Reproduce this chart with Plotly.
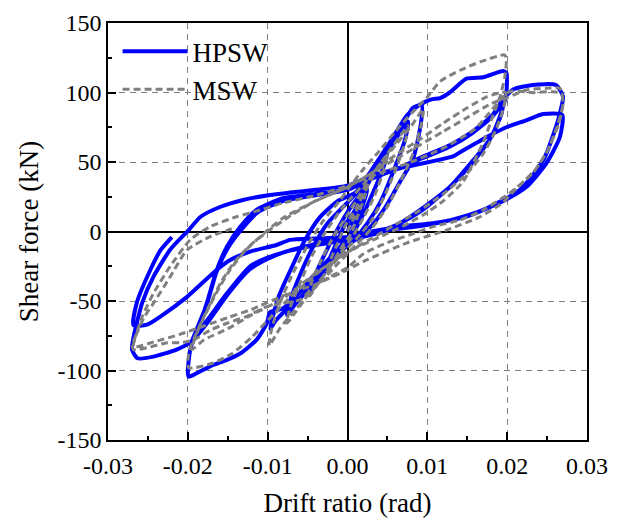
import plotly.graph_objects as go

# ---------------- HPSW (blue, solid) : cycles ----------------
hpsw_c1_x = [0, 0.0008, 0.0016, 0.0025, 0.0022, 0.0012, 0.0004, -0.0008, -0.0018, -0.0026, -0.0022, -0.0012, -0.0004]
hpsw_c1_y = [0, 10, 20, 30, 24, 8, -2, -10, -18, -25, -19, -6, 4]

hpsw_c2_x = [0.0008, 0.002, 0.0035, 0.005, 0.0046, 0.0032, 0.0016, 0.0004, -0.0012, -0.003, -0.0048, -0.0044, -0.003, -0.0014, 0]
hpsw_c2_y = [14, 28, 44, 58, 48, 28, 8, -4, -16, -30, -44, -36, -18, 0, 14]

hpsw_c3_x = [0.0015, 0.003, 0.0048, 0.0062, 0.0076, 0.0072, 0.0058, 0.0042, 0.0025, 0.0008, -0.001, -0.003, -0.005, -0.0065, -0.0076, -0.0072, -0.006, -0.0044, -0.0025, -0.0005]
hpsw_c3_y = [26, 40, 56, 68, 79, 66, 44, 22, 6, -6, -15, -28, -42, -52, -60, -50, -32, -12, 6, 18]

hpsw_c4_x = [0.0015, 0.0035, 0.0055, 0.0072, 0.0082, 0.0093, 0.0092, 0.0082, 0.0066, 0.0048, 0.003, 0.001, -0.001, -0.003, -0.0055, -0.0075, -0.009, -0.0097, -0.0093, -0.0085, -0.007, -0.0055, -0.0035, -0.0012]
hpsw_c4_y = [30, 46, 64, 80, 89, 91, 78, 52, 36, 18, 4, -5, -12, -24, -40, -55, -64, -70, -60, -45, -26, -8, 10, 22]

hpsw_c5_x = [0.001, 0.003, 0.0055, 0.0075, 0.009, 0.0105, 0.0116, 0.0128, 0.0149, 0.017, 0.0195, 0.0199, 0.0199, 0.0191, 0.0178, 0.0157, 0.0128, 0.0091, 0.0066, 0.004, 0.001, -0.002, -0.005, -0.008, -0.0097, -0.0101, -0.0114, -0.0134, -0.0151, -0.0172, -0.0189, -0.0199, -0.02, -0.0197, -0.0192, -0.0187, -0.0176, -0.0164, -0.0151, -0.0134, -0.0114, -0.0081, -0.004, 0]
hpsw_c5_y = [28, 44, 66, 84, 91, 95, 96, 100, 110, 111, 115.5, 114, 100, 83, 66, 51, 32, 15.5, 6, 0, -6, -20, -38, -55, -58, -66, -78, -87.6, -92.4, -97, -102, -104.5, -100, -85, -76, -70, -51, -28, -11, 3.5, 15.5, 24, 27, 30]

hpsw_c6_x = [0.003, 0.0066, 0.0091, 0.0128, 0.0157, 0.0182, 0.0193, 0.0196, 0.0193, 0.018, 0.016, 0.013, 0.0095, 0.0066, 0.004, 0, -0.004, -0.008, -0.0101, -0.0122, -0.0151, -0.0176, -0.0189, -0.0195, -0.019, -0.0176, -0.0164, -0.015, -0.0132, -0.0112, -0.008, -0.004, 0]
hpsw_c6_y = [38, 46, 52, 61, 71, 83, 92, 97, 85, 68, 52, 33, 16, 6, -1, -6, -10, -15, -19, -25, -44.5, -64, -73, -79, -72, -52, -29, -12, 2, 14, 22, 26, 30]

hpsw_c7_x = [0.003, 0.0066, 0.0091, 0.0128, 0.0157, 0.0182, 0.0191, 0.0207, 0.0232, 0.0261, 0.027, 0.0266, 0.0261, 0.0245, 0.0216, 0.017, 0.0128, 0.0087, 0.005, 0.002, 0, -0.004, -0.008, -0.0101, -0.0122, -0.0151, -0.0176, -0.0195, -0.0214, -0.0243, -0.0263, -0.027, -0.0268, -0.0257, -0.0243, -0.0222, -0.0199, -0.0184, -0.0159, -0.0131, -0.0097, -0.0072, -0.004, 0]
hpsw_c7_y = [38, 46, 53, 62, 72, 84, 92, 102, 105.4, 105.4, 97, 85, 75, 51, 30, 15.5, 8, 3.5, 1, -2, -4, -9, -15, -20, -27, -46, -66, -79, -85, -90, -91.2, -85, -76, -51, -32.5, -13, 1, 10.6, 17.8, 22.7, 26.3, 28, 30, 33]

hpsw_c8_x = [0.003, 0.0066, 0.0132, 0.0141, 0.0178, 0.0199, 0.0224, 0.0245, 0.0269, 0.0266, 0.0249, 0.0224, 0.019, 0.0149, 0.0107, 0.0066, 0.003, 0, -0.004, -0.0072, -0.0089, -0.0122, -0.0147, -0.0164, -0.0201, -0.0234, -0.0251, -0.0268, -0.0264, -0.0247, -0.0234, -0.022]
hpsw_c8_y = [40, 45.5, 54, 57, 69, 75, 80, 84.5, 84, 68, 49, 32, 20.5, 10.7, 6, 3.5, 0, -4, -5, -6, -9.7, -14.5, -20.5, -27.7, -47, -61, -67, -67.3, -51.4, -27.7, -13.3, -4]

# ---------------- MSW (grey, dashed) : cycles ----------------
msw_c1_x = [0, 0.0008, 0.0016, 0.0025, 0.0021, 0.0012, 0.0004, -0.0006, -0.0016, -0.0025, -0.0021, -0.0012, -0.0003]
msw_c1_y = [0, 10, 22, 32, 24, 10, -2, -10, -20, -28, -20, -8, 4]

msw_c2_x = [0.001, 0.002, 0.0035, 0.005, 0.0046, 0.0034, 0.002, 0.0006, -0.001, -0.003, -0.005, -0.0046, -0.0034, -0.0018, 0]
msw_c2_y = [16, 28, 42, 55, 45, 26, 10, -4, -16, -32, -48, -38, -22, -4, 12]

msw_c3_x = [0.0015, 0.003, 0.005, 0.0065, 0.0076, 0.0072, 0.006, 0.0045, 0.003, 0.001, -0.001, -0.003, -0.005, -0.0065, -0.0076, -0.0072, -0.006, -0.0045, -0.0025, -0.0005]
msw_c3_y = [26, 40, 56, 68, 76, 64, 44, 24, 8, -6, -18, -32, -46, -58, -66, -55, -38, -18, 2, 18]

msw_c4_x = [0.002, 0.004, 0.006, 0.008, 0.0095, 0.0092, 0.0082, 0.0068, 0.005, 0.003, 0.001, -0.001, -0.004, -0.0065, -0.0085, -0.0098, -0.0095, -0.0085, -0.007, -0.005, -0.003, -0.001, 0]
msw_c4_y = [34, 48, 62, 76, 88, 76, 56, 38, 18, 2, -10, -22, -40, -56, -70, -82, -70, -52, -32, -10, 8, 22, 30]

msw_c5_x = [0.002, 0.004, 0.006, 0.008, 0.0099, 0.0116, 0.0141, 0.0166, 0.0197, 0.0199, 0.0197, 0.0191, 0.0182, 0.017, 0.0158, 0.0145, 0.012, 0.0095, 0.007, 0.004, 0.001, -0.002, -0.005, -0.008, -0.01, -0.012, -0.0145, -0.017, -0.0199, -0.0199, -0.0193, -0.0183, -0.0172, -0.0159, -0.0143, -0.0122, -0.01, -0.007, -0.004, 0]
msw_c5_y = [45, 58, 72, 85, 96, 108, 116, 122, 127, 123, 111, 97, 83, 64, 50, 36, 22, 12, 4, -4, -12, -22, -36, -52, -64, -76, -88, -95, -98, -88, -78, -65, -52, -37, -23, -10, 0, 12, 22, 32]

msw_c6_x = [0.003, 0.006, 0.009, 0.012, 0.015, 0.0175, 0.0198, 0.0195, 0.0185, 0.017, 0.015, 0.012, 0.009, 0.006, 0.003, 0, -0.004, -0.008, -0.012, -0.015, -0.018, -0.0195, -0.019, -0.018, -0.0165, -0.015, -0.013, -0.011, -0.008, -0.004, 0]
msw_c6_y = [42, 55, 66, 78, 89, 97, 100, 88, 72, 56, 42, 27, 15, 5, -5, -15, -30, -48, -60, -70, -78, -85, -75, -62, -45, -30, -15, -4, 10, 22, 32]

msw_c7_x = [0.003, 0.006, 0.009, 0.012, 0.015, 0.018, 0.0199, 0.0224, 0.0249, 0.0266, 0.027, 0.0261, 0.0249, 0.0232, 0.0203, 0.017, 0.0141, 0.0107, 0.008, 0.005, 0.002, 0, -0.0022, -0.0043, -0.0059, -0.0101, -0.0126, -0.0151, -0.0172, -0.0193, -0.0209, -0.0226, -0.0247, -0.0268, -0.027, -0.0266, -0.0257, -0.0243, -0.0222, -0.0197, -0.0172, -0.0139, -0.0109, -0.0081, -0.004, 0]
msw_c7_y = [42, 52, 62, 72, 82, 92, 96, 101.8, 103, 103, 92, 73, 56.4, 42, 27.6, 15.5, 8.3, 3.5, -2, -8, -16, -26, -32.5, -40, -49, -54, -61, -66, -71, -78, -80, -80, -83, -85, -82, -76, -61, -44.5, -25, -6, 3.5, 10.6, 15.5, 20.5, 26, 33]

msw_c8_x = [0.004, 0.008, 0.012, 0.016, 0.0203, 0.0232, 0.0257, 0.0268, 0.027, 0.0265, 0.0252, 0.0236, 0.021, 0.0194, 0.0166, 0.0124, 0.0074, 0.0024, -0.0009, -0.004, -0.008, -0.012, -0.015, -0.018, -0.021, -0.024, -0.0268, -0.0265, -0.0255, -0.0243, -0.0222, -0.0201, -0.0172, -0.0145]
msw_c8_y = [42, 50, 60, 74, 100.6, 99.9, 100.6, 99.4, 92, 78, 60, 45, 30, 20.5, 10.6, 1, -8.3, -20.5, -30, -38, -46, -56, -62, -68, -74, -79, -83, -75, -62, -51.5, -32.5, -13.3, -3.7, 2]

hpsw_cycles = [(hpsw_c1_x, hpsw_c1_y), (hpsw_c2_x, hpsw_c2_y), (hpsw_c3_x, hpsw_c3_y), (hpsw_c4_x, hpsw_c4_y),
               (hpsw_c5_x, hpsw_c5_y), (hpsw_c6_x, hpsw_c6_y), (hpsw_c7_x, hpsw_c7_y), (hpsw_c8_x, hpsw_c8_y)]
msw_cycles = [(msw_c1_x, msw_c1_y), (msw_c2_x, msw_c2_y), (msw_c3_x, msw_c3_y), (msw_c4_x, msw_c4_y),
              (msw_c5_x, msw_c5_y), (msw_c6_x, msw_c6_y), (msw_c7_x, msw_c7_y), (msw_c8_x, msw_c8_y)]

x_tick_vals = [-0.03, -0.02, -0.01, 0.0, 0.01, 0.02, 0.03]
x_tick_labels = ["-0.03", "-0.02", "-0.01", "0.00", "0.01", "0.02", "0.03"]
y_tick_vals = [-150, -100, -50, 0, 50, 100, 150]
y_tick_labels = ["-150", "-100", "-50", "0", "50", "100", "150"]


def join(cycles):
    xs, ys = [], []
    for cx, cy in cycles:
        xs += cx
        ys += cy
    return xs, ys


hx, hy = join(hpsw_cycles)
mx, my = join(msw_cycles)

FONT = "Liberation Serif, Times New Roman, serif"

fig = go.Figure()
fig.add_trace(go.Scatter(x=hx, y=hy, mode="lines", name="HPSW",
                         line=dict(color="#0000FF", width=4, shape="spline", smoothing=0.6)))
fig.add_trace(go.Scatter(x=mx, y=my, mode="lines", name="MSW",
                         line=dict(color="#808080", width=3, dash="7px,4px", shape="spline", smoothing=0.6)))

axis_common = dict(
    showline=True, linecolor="black", linewidth=1.5, mirror=True,
    ticks="inside", ticklen=8, tickwidth=1.5, tickcolor="black",
    showgrid=True, gridcolor="#808080", gridwidth=1.3, griddash="6px,5px",
    zeroline=True, zerolinecolor="black", zerolinewidth=1.5,
    tickfont=dict(family=FONT, size=24, color="black"),
    title_font=dict(family=FONT, size=27, color="black"),
    automargin=False,
)

fig.update_xaxes(range=[-0.03, 0.03], tickmode="array", tickvals=x_tick_vals, ticktext=x_tick_labels,
                 minor=dict(ticks="inside", ticklen=4, tickwidth=1.5, tickcolor="black", dtick=0.005, tick0=0, showgrid=False),
                 ticklabelstandoff=3,
                 title_text="Drift ratio (rad)", title_standoff=21, **axis_common)
fig.update_yaxes(range=[-150, 150], tickmode="array", tickvals=y_tick_vals, ticktext=y_tick_labels,
                 minor=dict(ticks="inside", ticklen=4, tickwidth=1.5, tickcolor="black", dtick=25, tick0=0, showgrid=False),
                 title_text="Shear force (kN)", title_standoff=11, **axis_common)

# the page body adds an 8 px offset, so the margins are set to land the plot area where the reference has it
fig.update_layout(
    width=612, height=510,
    margin=dict(l=100, r=33, t=15, b=78),
    paper_bgcolor="white", plot_bgcolor="white",
    font=dict(family=FONT, color="black"),
    showlegend=True,
    legend=dict(x=0.02, y=0.99, xanchor="left", yanchor="top", bgcolor="rgba(0,0,0,0)",
                font=dict(family=FONT, size=27, color="black"), itemwidth=65, tracegroupgap=0),
)

fig.write_html("out.html")
